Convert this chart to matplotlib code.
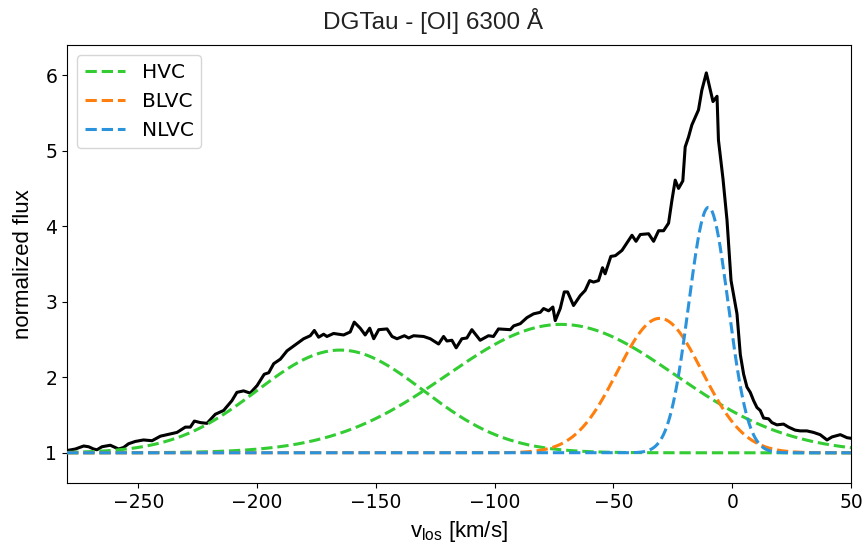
import numpy as np
import matplotlib.pyplot as plt

v_obs = [-280, -276.5, -273, -270.9, -268.8, -267.4, -265.3, -261.8, -260.4, -258.3,
         -256.2, -254.1, -251.3, -247.8, -244.2, -240.7, -236.5, -233.7, -230.2, -228.1,
         -226.4, -223.9, -221.1, -217.6, -214.1, -210.6, -208.5, -205.7, -202.9, -200,
         -197, -195.1, -193, -190.2, -187.4, -183.9, -180.4, -177.6, -175.9, -174.1,
         -172, -170.6, -167.8, -163.6, -160.8, -159.1, -156.6, -154.5, -152.6, -150.9,
         -148.8, -145.3, -143.2, -141.1, -138, -136.2, -134.1, -129.9, -127.1, -123.6,
         -121.5, -120.1, -118, -116.2, -113.8, -111.7, -109.6, -106.1, -102.6, -100.5,
         -98.4, -93.4, -92, -89.2, -86.4, -83.6, -80.8, -79.4, -77.3, -75.5,
         -74.5, -72.4, -70.7, -69.3, -66.8, -64, -61.9, -60, -58.4, -56.3,
         -54.6, -53.5, -51.1, -49.2, -46.4, -42.2, -40.5, -38.7, -35.2, -33.1,
         -31, -28.9, -26.8, -25.4, -24, -22.6, -20.8, -19.8, -18.4, -17,
         -14.2, -12.8, -10.9, -8.1, -6.4, -5.8, -3.9, -2.2, -0.5, 2.0,
         3.4, 4.8, 6.2, 7.6, 9.0, 10.4, 11.8, 13.2, 15.3, 16.7,
         18.8, 21.6, 23.7, 26.5, 28.6, 31.4, 34.2, 37.0, 39.9, 42.0,
         45.5, 48.3, 50.4]
flux_obs = [1.03, 1.05, 1.09, 1.08, 1.05, 1.04, 1.08, 1.10, 1.08, 1.05,
            1.07, 1.12, 1.15, 1.17, 1.16, 1.22, 1.25, 1.27, 1.34, 1.34,
            1.42, 1.40, 1.39, 1.51, 1.56, 1.69, 1.80, 1.82, 1.79, 1.89,
            2.04, 2.06, 2.18, 2.24, 2.35, 2.43, 2.51, 2.55, 2.62, 2.53,
            2.57, 2.54, 2.58, 2.56, 2.60, 2.73, 2.65, 2.56, 2.65, 2.51,
            2.63, 2.64, 2.54, 2.51, 2.55, 2.52, 2.55, 2.54, 2.51, 2.44,
            2.54, 2.48, 2.49, 2.39, 2.51, 2.52, 2.63, 2.49, 2.55, 2.54,
            2.64, 2.63, 2.68, 2.71, 2.79, 2.84, 2.86, 2.91, 2.88, 2.93,
            2.75, 2.91, 3.13, 3.13, 2.95, 3.08, 3.15, 3.28, 3.26, 3.28,
            3.45, 3.37, 3.60, 3.61, 3.68, 3.88, 3.80, 3.89, 3.90, 3.80,
            3.94, 3.94, 4.04, 4.34, 4.61, 4.50, 4.60, 5.05, 5.18, 5.34,
            5.54, 5.80, 6.03, 5.65, 5.72, 5.14, 4.63, 4.08, 3.28, 2.84,
            2.30, 2.04, 1.87, 1.80, 1.69, 1.60, 1.56, 1.46, 1.45, 1.40,
            1.37, 1.38, 1.34, 1.30, 1.29, 1.29, 1.27, 1.24, 1.17, 1.21,
            1.24, 1.20, 1.19]

# gaussian components on a continuum of 1: centre, amplitude, sigma (km/s)
hvc_centre = [-165.0, -72.0]
hvc_amp = [1.36, 1.70]
hvc_sigma = [35.0, 48.0]
blvc_centre, blvc_amp, blvc_sigma = -30.5, 1.78, 17.8
nlvc_centre, nlvc_amp, nlvc_sigma = -10.0, 3.25, 8.3

def gauss(v, c, a, s):
    return 1 + a * np.exp(-(v - c) ** 2 / (2 * s ** 2))

v = np.linspace(-280, 50, 1000)

plt.rcParams['font.family'] = 'DejaVu Sans'
fig = plt.figure(figsize=(8.66, 5.48), dpi=100)
ax = fig.add_axes([0.0774, 0.1186, 0.9053, 0.7994])

green = '#33cc33'
orange = '#ff7f0e'
blue = '#2b93db'
ax.plot(v_obs, flux_obs, color='k', lw=2.2, zorder=1)
for i in range(len(hvc_centre)):
    ax.plot(v, gauss(v, hvc_centre[i], hvc_amp[i], hvc_sigma[i]), '--', color=green,
            lw=2.2, label='HVC' if i == 0 else None, zorder=2)
ax.plot(v, gauss(v, blvc_centre, blvc_amp, blvc_sigma), '--', color=orange, lw=2.2,
        label='BLVC', zorder=3)
ax.plot(v, gauss(v, nlvc_centre, nlvc_amp, nlvc_sigma), '--', color=blue, lw=2.2,
        label='NLVC', zorder=4)

ax.set_xlim(-280, 50)
ax.set_ylim(0.6, 6.4)
ax.set_yticks([1, 2, 3, 4, 5, 6])
ax.tick_params(labelsize=13.5)
ax.set_xlabel(r'v$_\mathregular{los}$ [km/s]', fontsize=16, family='Liberation Sans',
              labelpad=5)
ax.set_ylabel('normalized flux', fontsize=16, family='Liberation Sans', labelpad=8)
ax.legend(loc='upper left', fontsize=14.5)
fig.suptitle('DGTau - [OI] 6300 Å', fontsize=17.5, family='Liberation Sans',
             y=0.985, color='#222222')

plt.savefig('out.png')
